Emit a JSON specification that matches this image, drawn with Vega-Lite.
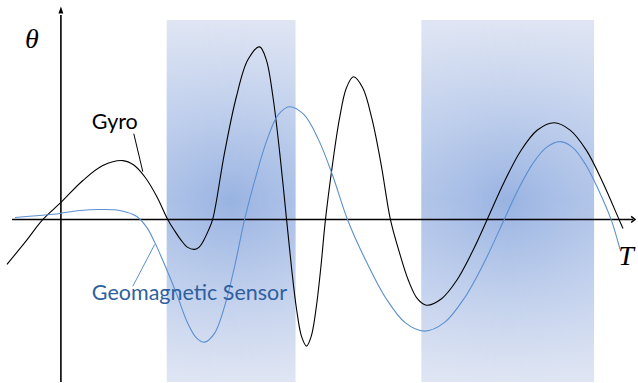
{
  "$schema": "https://vega.github.io/schema/vega-lite/v6.json",
  "width": 638,
  "height": 383,
  "padding": 0,
  "autosize": {"type": "fit", "contains": "padding"},
  "background": "white",
  "config": {"view": {"stroke": null}},
  "datasets": {
    "bands": [
      {"t": 10.6, "t2": 23.5, "v": 20.0, "v2": -16.3},
      {"t": 36.1, "t2": 53.4, "v": 20.0, "v2": -16.3}
    ],
    "gyro": [
      {"t": -5.4, "v": -4.5}, {"t": -3.6, "v": -2.3}, {"t": -1.8, "v": 0}, {"t": 0, "v": 1.7},
      {"t": 2.2, "v": 3.9}, {"t": 4.2, "v": 5.4}, {"t": 6.2, "v": 5.9}, {"t": 7.3, "v": 5.45},
      {"t": 8.45, "v": 4.2}, {"t": 9.6, "v": 2.3}, {"t": 10.7, "v": 0}, {"t": 11.4, "v": -1.15},
      {"t": 12.05, "v": -2.1}, {"t": 12.7, "v": -2.8}, {"t": 13.4, "v": -3.0}, {"t": 13.85, "v": -2.77},
      {"t": 14.3, "v": -2.1}, {"t": 14.75, "v": -1.15}, {"t": 15.2, "v": 0}, {"t": 16.375, "v": 6.6},
      {"t": 17.55, "v": 12.2}, {"t": 18.725, "v": 16.0}, {"t": 19.9, "v": 17.3}, {"t": 20.575, "v": 16.0},
      {"t": 21.25, "v": 12.2}, {"t": 21.925, "v": 6.6}, {"t": 22.6, "v": 0}, {"t": 23.1, "v": -4.86},
      {"t": 23.6, "v": -8.98}, {"t": 24.1, "v": -11.73}, {"t": 24.6, "v": -12.7}, {"t": 25.075, "v": -11.7},
      {"t": 25.55, "v": -9.0}, {"t": 26.025, "v": -4.9}, {"t": 26.5, "v": 0}, {"t": 27.2, "v": 5.5},
      {"t": 27.9, "v": 10.1}, {"t": 28.6, "v": 13.2}, {"t": 29.3, "v": 14.3}, {"t": 30.225, "v": 13.2},
      {"t": 31.15, "v": 10.1}, {"t": 32.075, "v": 5.5}, {"t": 33.0, "v": 0}, {"t": 33.9, "v": -3.3},
      {"t": 34.8, "v": -6.1}, {"t": 35.7, "v": -7.95}, {"t": 36.6, "v": -8.6}, {"t": 38.125, "v": -7.95},
      {"t": 39.65, "v": -6.1}, {"t": 41.175, "v": -3.3}, {"t": 42.7, "v": 0}, {"t": 44.375, "v": 3.7},
      {"t": 46.05, "v": 6.86}, {"t": 47.725, "v": 8.96}, {"t": 49.4, "v": 9.7}, {"t": 51.0, "v": 8.96},
      {"t": 52.65, "v": 6.9}, {"t": 54.275, "v": 3.7}, {"t": 55.9, "v": 0}, {"t": 56.3, "v": -0.9}
    ],
    "geo": [
      {"t": -4.6, "v": 0.2}, {"t": -2.1, "v": 0.4}, {"t": -0.1, "v": 0.6}, {"t": 1.9, "v": 0.9},
      {"t": 3.9, "v": 1.0}, {"t": 5.9, "v": 0.9}, {"t": 7.6, "v": 0.3}, {"t": 8.6, "v": -0.8},
      {"t": 9.4, "v": -2.3}, {"t": 10.5, "v": -4.8}, {"t": 11.6, "v": -7.5}, {"t": 12.7, "v": -10.4},
      {"t": 13.6, "v": -11.9}, {"t": 14.4, "v": -12.3}, {"t": 15.4, "v": -11.4}, {"t": 16.4, "v": -8.7},
      {"t": 17.4, "v": -4.7}, {"t": 18.4, "v": 0}, {"t": 19.525, "v": 4.3}, {"t": 20.65, "v": 8.0},
      {"t": 21.775, "v": 10.5}, {"t": 22.9, "v": 11.3}, {"t": 24.35, "v": 10.5}, {"t": 25.8, "v": 8.0},
      {"t": 27.25, "v": 4.3}, {"t": 28.7, "v": 0}, {"t": 30.625, "v": -4.3}, {"t": 32.55, "v": -7.9},
      {"t": 34.475, "v": -10.35}, {"t": 36.4, "v": -11.2}, {"t": 38.4, "v": -10.35}, {"t": 40.4, "v": -7.9},
      {"t": 42.4, "v": -4.3}, {"t": 44.4, "v": 0}, {"t": 45.8, "v": 3.0}, {"t": 47.2, "v": 5.5},
      {"t": 48.6, "v": 7.2}, {"t": 50.0, "v": 7.8}, {"t": 51.275, "v": 7.2}, {"t": 52.55, "v": 5.5},
      {"t": 53.825, "v": 3.0}, {"t": 55.1, "v": 0}, {"t": 56.0, "v": -3.0}
    ]
  },
  "encoding": {
    "x": {"field": "t", "type": "quantitative", "axis": null, "scale": {"domain": [-6.1, 57.7], "nice": false, "zero": false}},
    "y": {"field": "v", "type": "quantitative", "axis": null, "scale": {"domain": [-16.3, 22.0], "nice": false, "zero": false}}
  },
  "layer": [
    {
      "data": {"name": "bands"},
      "mark": {"type": "rect", "color": {"gradient": "linear", "x1": 0, "y1": 0, "x2": 0, "y2": 1, "stops": [{"offset": 0, "color": "#dfe5f3"}, {"offset": 0.5, "color": "#b6c8ea"}, {"offset": 1, "color": "#dfe5f3"}]}},
      "encoding": {"x2": {"field": "t2"}, "y2": {"field": "v2"}}
    },
    {
      "data": {"name": "bands"},
      "mark": {"type": "rect", "color": {"gradient": "radial", "x1": 0.5, "y1": 0.5, "x2": 0.5, "y2": 0.5, "r1": 0, "r2": 0.5, "stops": [{"offset": 0, "color": "rgba(140,170,222,0.7)"}, {"offset": 1, "color": "rgba(200,214,240,0)"}]}},
      "encoding": {"x2": {"field": "t2"}, "y2": {"field": "v2"}}
    },
    {
      "data": {"values": [{"t": 0, "v": -16.3, "v2": 20.5}]},
      "mark": {"type": "rule", "color": "black", "strokeWidth": 1.6},
      "encoding": {"y2": {"field": "v2"}}
    },
    {
      "data": {"values": [{"t": -4.9, "t2": 57.3, "v": 0}]},
      "mark": {"type": "rule", "color": "black", "strokeWidth": 1.6},
      "encoding": {"x2": {"field": "t2"}}
    },
    {
      "data": {"values": [{"t": 0, "v": 21.0}]},
      "mark": {"type": "point", "shape": "M0,-1L0.7,1L-0.7,1Z", "filled": true, "color": "black", "size": 50, "opacity": 1}
    },
    {
      "data": {"values": [{"t": 57.5, "v": 0}]},
      "mark": {"type": "point", "shape": "M-1,-0.8L0,0L-1,0.8", "filled": false, "color": "black", "strokeWidth": 1.5, "size": 60, "opacity": 1}
    },
    {
      "data": {"name": "gyro"},
      "mark": {"type": "line", "interpolate": "catmull-rom", "color": "black", "strokeWidth": 1.1}
    },
    {
      "data": {"name": "geo"},
      "mark": {"type": "line", "interpolate": "catmull-rom", "color": "#5b8fd0", "strokeWidth": 1.1}
    },
    {
      "data": {"values": [{"t": 7.3, "v": 8.6, "t2": 8.2, "v2": 4.8}]},
      "mark": {"type": "rule", "color": "black", "strokeWidth": 1},
      "encoding": {"x2": {"field": "t2"}, "y2": {"field": "v2"}}
    },
    {
      "data": {"values": [{"t": 7.2, "v": -6.7, "t2": 9.4, "v2": -2.5}]},
      "mark": {"type": "rule", "color": "#5b8fd0", "strokeWidth": 1},
      "encoding": {"x2": {"field": "t2"}, "y2": {"field": "v2"}}
    },
    {
      "data": {"values": [{"t": 3.1, "v": 9.7, "label": "Gyro"}]},
      "mark": {"type": "text", "align": "left", "baseline": "middle", "font": "Lato", "fontSize": 21.5, "color": "black"},
      "encoding": {"text": {"field": "label"}}
    },
    {
      "data": {"values": [{"t": 3.1, "v": -7.5, "label": "Geomagnetic Sensor"}]},
      "mark": {"type": "text", "align": "left", "baseline": "middle", "font": "Lato", "fontSize": 21.5, "color": "#2f5f9e"},
      "encoding": {"text": {"field": "label"}}
    },
    {
      "data": {"values": [{"t": -2.9, "v": 18.0, "label": "θ"}]},
      "mark": {"type": "text", "align": "center", "baseline": "middle", "font": "Liberation Serif", "fontStyle": "italic", "fontSize": 28, "color": "black"},
      "encoding": {"text": {"field": "label"}}
    },
    {
      "data": {"values": [{"t": 56.6, "v": -3.8, "label": "T"}]},
      "mark": {"type": "text", "align": "center", "baseline": "middle", "font": "Liberation Serif", "fontStyle": "italic", "fontSize": 28, "color": "black"},
      "encoding": {"text": {"field": "label"}}
    }
  ]
}
